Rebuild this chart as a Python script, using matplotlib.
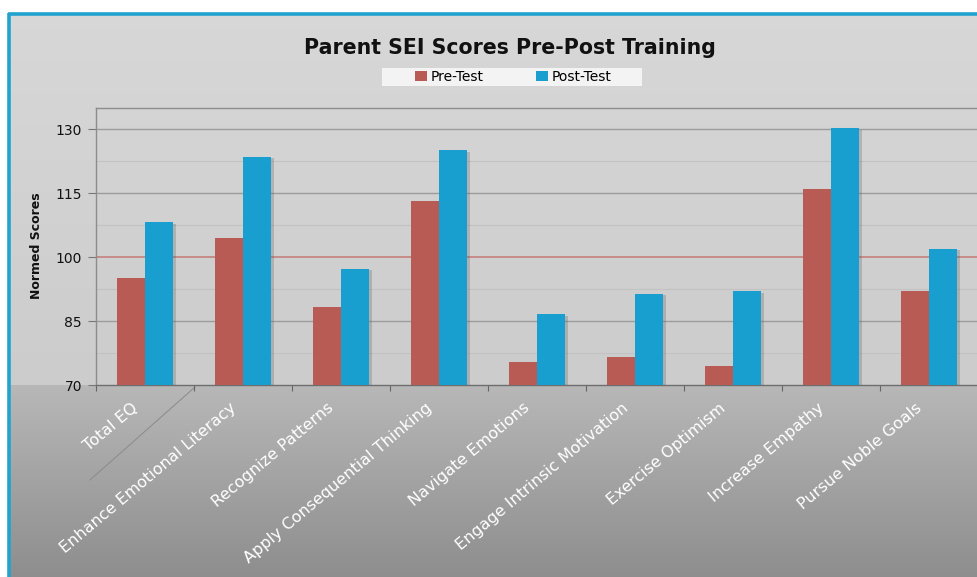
import numpy as np
import matplotlib
matplotlib.use("Agg")
import matplotlib.pyplot as plt
from matplotlib.patches import Patch, Rectangle
import matplotlib.patheffects as pe

categories = ["Total EQ", "Enhance Emotional Literacy", "Recognize Patterns",
              "Apply Consequential Thinking", "Navigate Emotions",
              "Engage Intrinsic Motivation", "Exercise Optimism",
              "Increase Empathy", "Pursue Noble Goals"]
pre_test = [95.2, 104.5, 88.3, 113.1, 75.3, 76.5, 74.5, 116.0, 92.0]
post_test = [108.2, 123.6, 97.3, 125.1, 86.6, 91.4, 92.0, 130.2, 101.9]
y_ticks = [70, 85, 100, 115, 130]
y_minor = [77.5, 92.5, 107.5, 122.5]
reference_level = 100

W, H = 977, 577
fig = plt.figure(figsize=(W / 100, H / 100), dpi=100)
fig.patch.set_facecolor("white")

# background gradient
bg = fig.add_axes([0, 0, 1, 1], zorder=-10)
bg.set_axis_off()
rows = np.arange(H)
vals = np.empty(H)
top_end = 385
for r in rows:
    if r < top_end:
        t = (r - 13) / (top_end - 13)
        vals[r] = 0.845 - 0.045 * max(t, 0)
    else:
        t = (r - top_end) / (H - top_end)
        vals[r] = 0.72 - 0.165 * t
img = np.repeat(vals[:, None], W, axis=1)
img = np.stack([img] * 3, axis=-1)
img[:13, :, :] = 1.0
img[:, :8, :] = 1.0
bg.imshow(img, extent=[0, W, H, 0], aspect="auto", interpolation="bilinear")
bg.set_xlim(0, W)
bg.set_ylim(H, 0)
# cyan frame
bg.plot([9, 9], [13, H], color="#22a3cf", lw=2.6, solid_capstyle="butt")
bg.plot([8, W], [13.5, 13.5], color="#22a3cf", lw=2.6, solid_capstyle="butt")
# diagonal artifact line
bg.plot([90, 195], [480, 387], color="#8a8a8a", lw=0.7)
# legend box
bg.add_patch(Rectangle((382, 68), 260, 18, facecolor="#f3f3f3", edgecolor="none"))

# main axes
left, right, top, bottom = 96, 978, 108, 385
ax = fig.add_axes([left / W, 1 - bottom / H, (right - left) / W, (bottom - top) / H])
ax.set_facecolor("none")
x = np.arange(len(categories))
w = 0.29
shadow = [pe.SimplePatchShadow(offset=(1.5, -1), alpha=0.25, shadow_rgbFace="#555555"), pe.Normal()]
ax.bar(x - w / 2, np.array(pre_test) - 70, bottom=70, width=w, color="#b95b55",
       zorder=3, path_effects=shadow)
ax.bar(x + w / 2, np.array(post_test) - 70, bottom=70, width=w, color="#189fd0",
       zorder=3, path_effects=shadow)

ax.set_xlim(-0.5, len(categories) - 0.5)
ax.set_ylim(70, 135)
ax.set_yticks(y_ticks)
ax.set_yticklabels([str(v) for v in y_ticks], fontsize=10, color="#111111")
ax.set_yticks(y_minor, minor=True)
ax.tick_params(axis="y", which="major", length=6, color="#777777", pad=4)
ax.tick_params(axis="y", which="minor", length=0)
for v in y_ticks:
    if v == reference_level or v == 70:
        continue
    ax.axhline(v, color="#9c9c9c", lw=1.0, zorder=1)
for v in y_minor:
    ax.axhline(v, color="#c2c2c2", lw=0.8, zorder=1)
ax.axhline(reference_level, color="#c47a76", lw=1.1, zorder=1)

ax.set_xticks(np.arange(-0.5, len(categories), 1.0))
ax.set_xticklabels([])
ax.tick_params(axis="x", length=4, color="#666666", direction="out")
for i, lab in enumerate(categories):
    ax.annotate(lab, xy=(i, 70), xycoords="data", xytext=(-10, -11),
                textcoords="offset points", rotation=40, rotation_mode="anchor",
                ha="right", va="top", color="white", fontsize=11.5,
                family="DejaVu Sans")

for s in ["left", "top"]:
    ax.spines[s].set_color("#8c8c8c")
    ax.spines[s].set_linewidth(1.0)
ax.spines["bottom"].set_color("#6e6e6e")
ax.spines["bottom"].set_linewidth(1.0)
ax.spines["right"].set_visible(False)

fig.text(37 / W, 1 - 246 / H, "Normed Scores", rotation=90, ha="center", va="center",
         fontsize=9, fontweight="bold", color="#111111")
fig.text(510 / W, 1 - 48 / H, "Parent SEI Scores Pre-Post Training", ha="center",
         va="center", fontsize=14.8, fontweight="bold", color="#111111")

handles = [Patch(facecolor="#b95b55", edgecolor="none", label="Pre-Test"),
           Patch(facecolor="#189fd0", edgecolor="none", label="Post-Test")]
leg = fig.legend(handles=handles, loc="center", bbox_to_anchor=(513 / W, 1 - 77 / H),
                 ncol=2, frameon=False, fontsize=10,
                 handlelength=0.85, handleheight=0.65, handletextpad=0.25,
                 columnspacing=3.8, borderpad=0.0, borderaxespad=0)

fig.savefig("out.png", dpi=100)
